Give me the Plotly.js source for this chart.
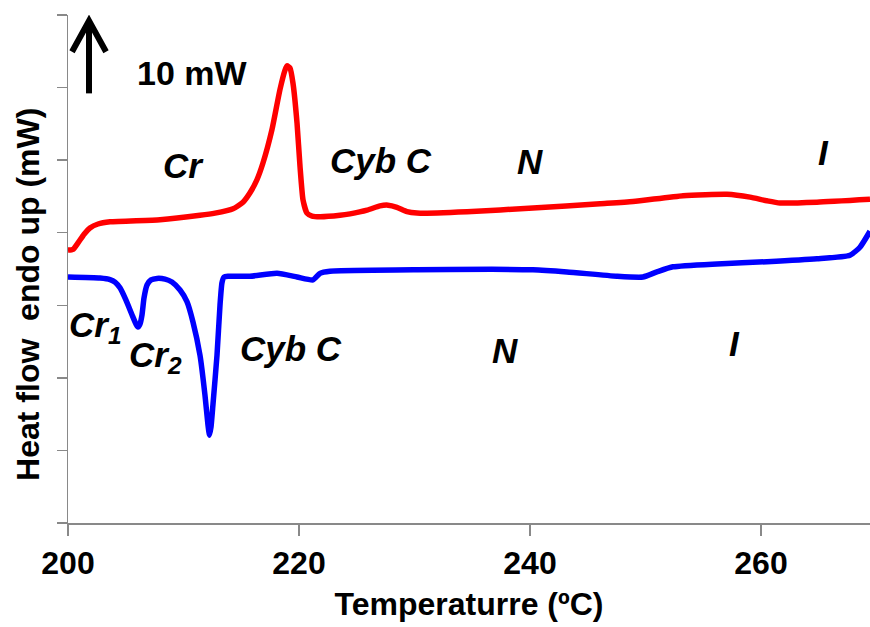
<!DOCTYPE html>
<html>
<head>
<meta charset="utf-8">
<script src="https://cdn.plot.ly/plotly-3.0.1.min.js"></script>
<style>
  html, body { margin: 0; padding: 0; background: #fff; }
  #chart { width: 870px; height: 627px; }
</style>
</head>
<body>
<div id="chart"></div>
<script>
// DSC thermogram: heating (red) and cooling (blue) traces, heat flow endo up
const heatingT = [200.0, 200.43, 200.87, 201.39, 201.90, 202.60, 203.64, 207.97, 211.43, 212.73,
  214.29, 215.15, 215.76, 216.36, 216.88, 217.66, 218.35, 218.79, 218.96, 219.22,
  219.48, 219.83, 220.09, 220.35, 220.69, 221.13, 221.82, 223.55, 224.42, 225.89,
  227.01, 227.71, 228.48, 229.35, 230.22, 234.55, 240.26, 246.06, 248.92, 253.25,
  257.06, 259.05, 260.52, 261.65, 264.85, 269.44];
const heatingFlow = [37.6, 37.7, 38.6, 39.8, 40.65, 41.2, 41.5, 41.8, 42.4, 42.7,
  43.3, 44.2, 45.5, 47.3, 49.6, 54.2, 59.7, 62.4, 63.0, 62.7,
  60.6, 55.1, 49.1, 44.5, 42.7, 42.3, 42.2, 42.4, 42.6, 43.1,
  43.7, 43.8, 43.5, 42.9, 42.7, 42.9, 43.4, 44.0, 44.3, 45.1,
  45.3, 44.9, 44.4, 44.1, 44.2, 44.6];

const coolingT = [200.0, 202.77, 203.64, 204.07, 204.50, 205.02, 205.54, 205.89, 206.06, 206.23,
  206.41, 206.58, 206.84, 207.19, 207.71, 208.40, 209.00, 209.70, 210.30, 210.82,
  211.43, 211.86, 212.12, 212.25, 212.38, 212.55, 212.90, 213.16, 213.33, 213.51,
  213.85, 215.76, 218.10, 219.83, 221.21, 221.82, 222.68, 230.22, 240.26, 243.20,
  247.53, 249.78, 250.99, 252.38, 256.19, 260.52, 264.85, 267.71, 268.57, 269.44];
const coolingFlow = [33.9, 33.76, 33.55, 33.2, 32.4, 30.7, 28.7, 27.4, 27.0, 27.4,
  28.7, 31.0, 32.8, 33.5, 33.7, 33.6, 33.2, 32.1, 30.5, 27.7,
  23.1, 17.6, 13.5, 12.1, 13.2, 16.3, 23.1, 30.0, 33.1, 33.9,
  34.0, 34.0, 34.4, 33.9, 33.5, 34.4, 34.7, 34.9, 34.9, 34.6,
  34.0, 33.9, 34.6, 35.3, 35.7, 36.0, 36.4, 36.9, 38.0, 40.2];

// Phase labels: heating (upper) and cooling (lower)
const phaseText = ['<i>Cr</i>', '<i>Cyb C</i>', '<i>N</i>', '<i>I</i>',
  '<i>Cr<sub>1</sub></i>', '<i>Cr<sub>2</sub></i>', '<i>Cyb C</i>', '<i>N</i>', '<i>I</i>'];
const phaseT = [210.0, 227.1, 240.0, 265.45, 202.4, 207.6, 219.3, 237.8, 257.7];
const phaseFlow = [49.2, 50.0, 49.8, 51.1, 27.0, 22.9, 24.1, 23.8, 24.8];

// Scale bar: 10 mW
const scaleBarT = 201.82;
const scaleBarBase = 59.2;
const scaleBarLength = 10;

const xTicks = [200, 220, 240, 260];

const fontFamily = 'Liberation Sans, Arial, sans-serif';
const axisGrey = '#898989';

const traces = [
  {
    x: heatingT, y: heatingFlow, type: 'scatter', mode: 'lines',
    line: { color: '#ff0000', width: 5.5, shape: 'spline', smoothing: 0.5 },
    hoverinfo: 'skip', showlegend: false
  },
  {
    x: coolingT, y: coolingFlow, type: 'scatter', mode: 'lines',
    line: { color: '#0000ff', width: 5.5, shape: 'spline', smoothing: 0.5 },
    hoverinfo: 'skip', showlegend: false
  }
];

const annotations = phaseText.map((t, i) => ({
  x: phaseT[i], y: phaseFlow[i], xref: 'x', yref: 'y',
  text: t, showarrow: false, xanchor: 'center', yanchor: 'middle',
  font: { family: fontFamily, size: 35, color: '#000', weight: 'bold' }
}));

annotations.push({
  x: 210.7, y: 62.0, xref: 'x', yref: 'y',
  text: '10 mW', showarrow: false, xanchor: 'center', yanchor: 'middle',
  font: { family: fontFamily, size: 34, color: '#000', weight: 'bold' }
});

annotations.push({
  x: -40 / 802, y: 0.449, xref: 'paper', yref: 'paper',
  text: 'Heat flow  endo up (mW)', textangle: -90, showarrow: false,
  xanchor: 'center', yanchor: 'middle',
  font: { family: fontFamily, size: 32, color: '#000', weight: 'bold' }
});

const shapes = [
  // scale bar shaft
  {
    type: 'line', xref: 'x', yref: 'y',
    x0: scaleBarT, x1: scaleBarT, y0: scaleBarBase, y1: scaleBarBase + scaleBarLength,
    line: { color: '#000', width: 6 }
  },
  // scale bar head
  {
    type: 'path', xref: 'x', yref: 'y',
    xsizemode: 'pixel', ysizemode: 'pixel',
    xanchor: scaleBarT, yanchor: scaleBarBase + scaleBarLength,
    path: 'M -17 -31 L 0 0 L 17 -31',
    line: { color: '#000', width: 6 }
  },
  // horizontal axis extending past the vertical axis
  {
    type: 'line', xref: 'paper', yref: 'paper',
    x0: -10 / 802, x1: 0, y0: 0, y1: 0,
    line: { color: axisGrey, width: 1.5 }
  }
];

const layout = {
  width: 870, height: 627,
  margin: { l: 68, r: 0, t: 15, b: 104 },
  paper_bgcolor: '#fff', plot_bgcolor: '#fff',
  font: { family: fontFamily, color: '#000' },
  showlegend: false,
  xaxis: {
    range: [200, 269.44], tickvals: xTicks, ticktext: xTicks.map(String),
    ticks: 'outside', ticklen: 11, tickwidth: 1.5, tickcolor: axisGrey,
    showline: true, linecolor: axisGrey, linewidth: 1.5,
    showgrid: false, zeroline: false,
    tickfont: { family: fontFamily, size: 32, weight: 'bold', color: '#000' },
    title: { text: 'Temperaturre (ºC)', standoff: 12,
      font: { family: fontFamily, size: 32, weight: 'bold', color: '#000' } }
  },
  yaxis: {
    range: [0, 70], dtick: 10, tick0: 0,
    ticks: 'outside', ticklen: 10, tickwidth: 1.5, tickcolor: axisGrey,
    showticklabels: false,
    showline: true, linecolor: axisGrey, linewidth: 1.5,
    showgrid: false, zeroline: false
  },
  annotations: annotations,
  shapes: shapes
};

Plotly.newPlot('chart', traces, layout, { staticPlot: true, displayModeBar: false });
</script>
</body>
</html>
